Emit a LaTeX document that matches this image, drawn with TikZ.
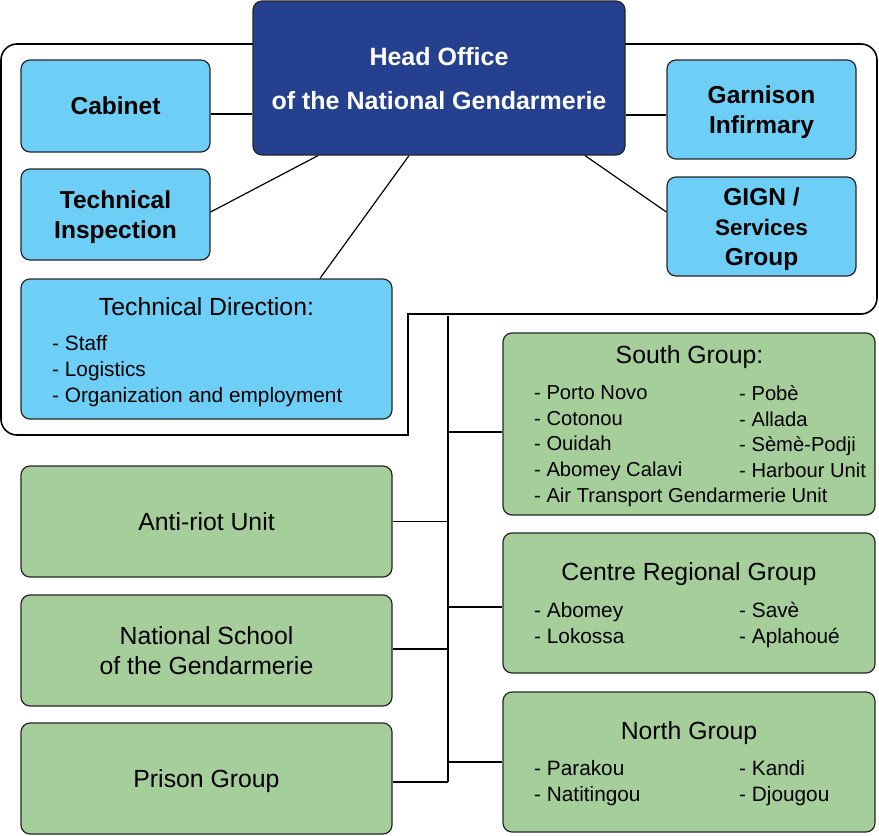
\documentclass[tikz,border=0pt]{standalone}
\usepackage{fontspec}
\setmainfont{Liberation Sans}
\definecolor{headblue}{RGB}{37,64,143}
\definecolor{lightblue}{RGB}{109,207,246}
\definecolor{lightgreen}{RGB}{166,206,154}
\tikzset{
  unitbox/.style={draw=black!85, line width=1.2pt, rounded corners=9pt, inner sep=0pt, text depth=0pt, align=center},
  headbox/.style={unitbox, fill=headblue, text=white, font=\fontsize{25}{44}\selectfont\bfseries},
  bluebox/.style={unitbox, fill=lightblue, font=\fontsize{24.5}{30}\selectfont\bfseries},
  greenbox/.style={unitbox, fill=lightgreen, font=\fontsize{24.8}{30}\selectfont},
  grouptitle/.style={inner sep=0pt, font=\fontsize{24.8}{28}\selectfont},
  itemlist/.style={anchor=north west, inner sep=0pt, align=left, font=\fontsize{20.8}{25.8}\selectfont},
  linkline/.style={line width=1.2pt}
}
\begin{document}
\begin{tikzpicture}[x=1pt,y=-1pt]
  \useasboundingbox (0,0) rectangle (879,836);
  \draw[line width=1.6pt] (408,435) -- (408,314) [rounded corners=16pt] -- (877,314) -- (877,44) -- (1,44) -- (1,435) [sharp corners] -- cycle;

  \node[headbox, minimum width=372, minimum height=154] (head) at (439,78) {Head Office\\of the National Gendarmerie};
  \node[bluebox, minimum width=189, minimum height=92] (cabinet) at (115.5,106) {Cabinet};
  \node[bluebox, minimum width=189, minimum height=91] (inspection) at (115.5,214.5) {Technical\\Inspection};
  \node[bluebox, minimum width=371, minimum height=140] (direction) at (206.5,349) {};
  \node[grouptitle] (directiontitle) at (206.5,307) {Technical Direction:};
  \node[itemlist] (directionitems) at (52,335.5) {- Staff\\- Logistics\\- Organization and employment};
  \node[bluebox, minimum width=189, minimum height=99] (garnison) at (761.5,109.5) {Garnison\\Infirmary};
  \node[bluebox, minimum width=189, minimum height=99] (gign) at (761.5,226.5) {GIGN /\\{\fontsize{22.5}{29.5}\selectfont Services}\\Group};

  \node[greenbox, minimum width=372, minimum height=182] (south) at (689,424) {};
  \node[grouptitle] (southtitle) at (689.5,357.5) {South Group:};
  \node[itemlist, font=\fontsize{20.2}{25.6}\selectfont] (southleft) at (534,385.5) {- Porto Novo\\- Cotonou\\- Ouidah\\- Abomey Calavi\\- Air Transport Gendarmerie Unit};
  \node[itemlist, font=\fontsize{20.2}{25.6}\selectfont] (southright) at (739,385.5) {- Pobè\\- Allada\\- Sèmè-Podji\\- Harbour Unit};
  \node[greenbox, minimum width=372, minimum height=140] (centre) at (689,603) {};
  \node[grouptitle] (centretitle) at (689,574.5) {Centre Regional Group};
  \node[itemlist] (centreleft) at (534,602) {- Abomey\\- Lokossa};
  \node[itemlist] (centreright) at (739,602) {- Savè\\- Aplahoué};
  \node[greenbox, minimum width=372, minimum height=140] (north) at (689,762) {};
  \node[grouptitle] (northtitle) at (689,733) {North Group};
  \node[itemlist] (northleft) at (534,760) {- Parakou\\- Natitingou};
  \node[itemlist] (northright) at (739,760) {- Kandi\\- Djougou};

  \node[greenbox, minimum width=371, minimum height=111] (antiriot) at (206.5,521.5) {Anti-riot Unit};
  \node[greenbox, minimum width=371, minimum height=111] (school) at (206.5,650.5) {National School\\of the Gendarmerie};
  \node[greenbox, minimum width=371, minimum height=111] (prison) at (206.5,778.5) {Prison Group};

  \draw[linkline] (cabinet.east |- 0,114) -- (head.west |- 0,114);
  \draw[linkline] (inspection.east |- 0,212) -- (head.south -| 318,0);
  \draw[linkline] (direction.north -| 320,0) -- (head.south -| 409,0);
  \draw[linkline] (head.east |- 0,115) -- (garnison.west |- 0,115);
  \draw[linkline] (gign.west |- 0,212) -- (head.south -| 585,0);

  \coordinate (trunktop) at (448,316);
  \coordinate (trunkend) at (448,782);
  \draw[linkline] (trunktop) -- (trunkend);
  \draw[linkline] (trunktop |- 0,432) -- (south.west |- 0,432);
  \draw[linkline] (antiriot.east) -- (trunktop |- antiriot.east);
  \draw[linkline] (trunktop |- 0,607) -- (centre.west |- 0,607);
  \draw[linkline] (school.east |- 0,649) -- (trunktop |- 0,649);
  \draw[linkline] (trunktop |- north.west) -- (north.west);
  \draw[linkline] (prison.east |- trunkend) -- (trunkend);
\end{tikzpicture}
\end{document}
